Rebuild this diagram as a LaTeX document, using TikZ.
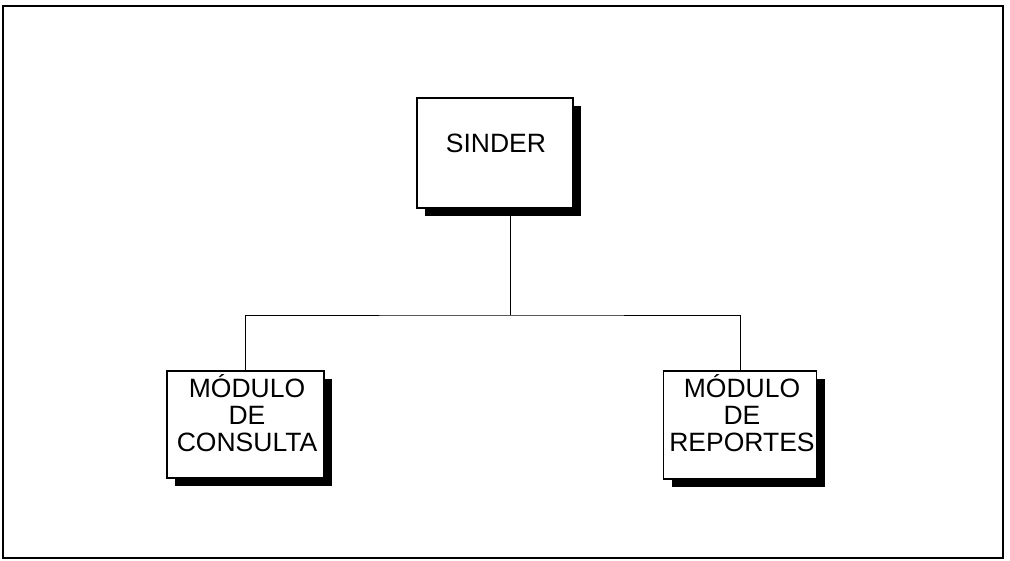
\documentclass[tikz,border=0pt]{standalone}
\usepackage{fontspec}
\setmainfont{Liberation Sans}
\usetikzlibrary{shadows}
\begin{document}
\begin{tikzpicture}[x=1pt,y=-1pt,
  box/.style={draw=black, line width=1.2pt, fill=white, inner sep=0pt,
    drop shadow={shadow xshift=8pt, shadow yshift=-8pt, opacity=1, fill=black}},
  lbl/.style={font=\fontsize{26.5}{27}\selectfont, align=center, inner sep=0pt},
  link/.style={draw=black, line width=1pt}]
\useasboundingbox (0,0) rectangle (1010,560);
\draw[line width=1.6pt] (3,6) rectangle (1003,558);
\node[box, minimum width=156pt, minimum height=110pt] (sinder) at (495,153) {};
\node[box, minimum width=157pt, minimum height=107pt] (consulta) at (245.5,424.5) {};
\node[box, minimum width=153pt, minimum height=108pt] (reportes) at (740,425) {};
\node[lbl] (t1) at (496,143) {SINDER};
\node[lbl] (t2) at (247,413) {MÓDULO\\DE\\CONSULTA};
\node[lbl] (t3) at (742,413) {MÓDULO\\DE\\REPORTES};
\coordinate (j) at (510,315);
\draw[link] (sinder.south -| j) -- (j);
\draw[link] (consulta.north) |- (j) -| (reportes.north);
\end{tikzpicture}
\end{document}
